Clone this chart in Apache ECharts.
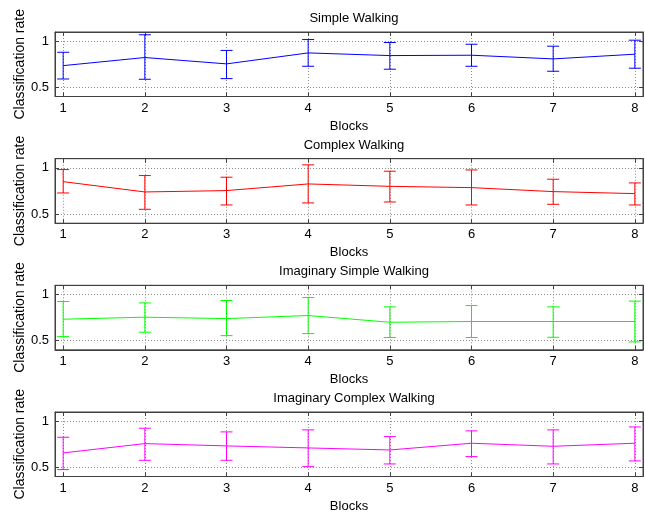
<!DOCTYPE html>
<html><head><meta charset="utf-8">
<script src="https://cdn.jsdelivr.net/npm/echarts@6/dist/echarts.min.js"></script>
<style>html,body{margin:0;padding:0;background:#fff}#c{width:645px;height:512px}</style>
</head><body><div id="c"></div>
<script>
const blocks = [1, 2, 3, 4, 5, 6, 7, 8];
const yTicks = [0.5, 1];
const titles = ['Simple Walking', 'Complex Walking', 'Imaginary Simple Walking', 'Imaginary Complex Walking'];
const colors = ['#0000ff', '#ff0000', '#00ff00', '#ff00ff'];

const simpleMean  = [0.735, 0.823, 0.754, 0.873, 0.844, 0.848, 0.808, 0.859];
const simpleLow   = [0.590, 0.587, 0.594, 0.728, 0.696, 0.728, 0.674, 0.707];
const simpleHigh  = [0.880, 1.070, 0.900, 1.018, 0.986, 0.967, 0.946, 1.011];

const complexMean = [0.851, 0.739, 0.754, 0.826, 0.800, 0.786, 0.743, 0.721];
const complexLow  = [0.728, 0.551, 0.598, 0.620, 0.630, 0.598, 0.605, 0.598];
const complexHigh = [0.982, 0.917, 0.899, 1.033, 0.964, 0.978, 0.877, 0.837];

const imSimpleMean = [0.732, 0.754, 0.739, 0.772, 0.699, 0.707, 0.707, 0.707];
const imSimpleLow  = [0.543, 0.591, 0.554, 0.576, 0.533, 0.533, 0.536, 0.486];
const imSimpleHigh = [0.924, 0.909, 0.935, 0.967, 0.866, 0.880, 0.866, 0.928];

const imComplexMean = [0.656, 0.757, 0.732, 0.710, 0.688, 0.761, 0.728, 0.761];
const imComplexLow  = [0.475, 0.576, 0.576, 0.507, 0.536, 0.616, 0.536, 0.569];
const imComplexHigh = [0.826, 0.924, 0.884, 0.906, 0.833, 0.895, 0.906, 0.938];

const means = [simpleMean, complexMean, imSimpleMean, imComplexMean];
const lows = [simpleLow, complexLow, imSimpleLow, imComplexLow];
const highs = [simpleHigh, complexHigh, imSimpleHigh, imComplexHigh];

const FONT = '"Liberation Sans", Arial, sans-serif';
const tops = [32, 158.7, 285.3, 412];
const H = 64.5, L = 55, R = 2;

const grid = [], xAxis = [], yAxis = [], series = [], title = [];
const boxColor = '#404040';
const gridLine = { show: true, lineStyle: { color: '#8c8c8c', type: [1, 2], width: 1 } };

for (let i = 0; i < 4; i++) {
  grid.push({ left: L, right: R, top: tops[i], height: H, show: true, containLabel: false, outerBoundsMode: 'none',
    borderColor: boxColor, borderWidth: 1, backgroundColor: 'transparent' });
  title.push({ text: titles[i], left: 349, top: tops[i] - 25, textAlign: 'center',
    textStyle: { fontFamily: FONT, fontSize: 13, fontWeight: 'normal', color: '#000' } });
  const xb = {
    gridIndex: i, type: 'value', min: 0.9, max: 8.1, position: 'bottom',
    axisLine: { show: true, onZero: false, lineStyle: { color: boxColor } },
    axisTick: { show: true, inside: true, length: 4, customValues: blocks, lineStyle: { color: boxColor } },
    axisLabel: { show: true, customValues: blocks, margin: 5, fontFamily: FONT, fontSize: 13, color: '#000' },
    splitLine: Object.assign({}, gridLine),
    name: 'Blocks', nameLocation: 'middle', nameGap: 23,
    nameTextStyle: { fontFamily: FONT, fontSize: 13, color: '#000', verticalAlign: 'top' }
  };
  const xt = {
    gridIndex: i, type: 'value', min: 0.9, max: 8.1, position: 'top',
    axisLine: { show: true, onZero: false, lineStyle: { color: boxColor } },
    axisTick: { show: true, inside: true, length: 4, customValues: blocks, lineStyle: { color: boxColor } },
    axisLabel: { show: false }, splitLine: { show: false }
  };
  const yl = {
    gridIndex: i, type: 'value', min: 0.4, max: 1.1, position: 'left',
    axisLine: { show: true, onZero: false, lineStyle: { color: boxColor } },
    axisTick: { show: true, inside: true, length: 4, customValues: yTicks, lineStyle: { color: boxColor } },
    axisLabel: { show: true, customValues: yTicks, margin: 6, fontFamily: FONT, fontSize: 13, color: '#000' },
    splitLine: Object.assign({}, gridLine),
    name: 'Classification rate', nameLocation: 'middle', nameGap: 28, nameRotate: 90, nameMoveOverlap: false,
    nameTextStyle: { fontFamily: FONT, fontSize: 14, color: '#000' }
  };
  const yr = {
    gridIndex: i, type: 'value', min: 0.4, max: 1.1, position: 'right',
    axisLine: { show: true, onZero: false, lineStyle: { color: boxColor } },
    axisTick: { show: true, inside: true, length: 4, customValues: yTicks, lineStyle: { color: boxColor } },
    axisLabel: { show: false }, splitLine: { show: false }
  };
  xAxis.push(xb, xt);
  yAxis.push(yl, yr);

  series.push({
    type: 'line', xAxisIndex: 2 * i, yAxisIndex: 2 * i, symbol: 'none', silent: true,
    lineStyle: { color: colors[i], width: 1 },
    data: blocks.map((b, k) => [b, means[i][k]]), z: 3
  });
  series.push({
    type: 'custom', xAxisIndex: 2 * i, yAxisIndex: 2 * i, silent: true, z: 4,
    data: blocks.map((b, k) => [b, lows[i][k], highs[i][k]]),
    encode: { x: 0, y: [1, 2] },
    renderItem: (function (col) {
      return function (params, api) {
        const x = api.value(0);
        const lo = api.coord([x, api.value(1)]);
        const hi = api.coord([x, api.value(2)]);
        const w = 6;
        const st = { stroke: col, lineWidth: 1, fill: null };
        return { type: 'group', children: [
          { type: 'line', shape: { x1: lo[0], y1: lo[1], x2: hi[0], y2: hi[1] }, style: st },
          { type: 'line', shape: { x1: hi[0] - w, y1: hi[1], x2: hi[0] + w, y2: hi[1] }, style: st },
          { type: 'line', shape: { x1: lo[0] - w, y1: lo[1], x2: lo[0] + w, y2: lo[1] }, style: st }
        ]};
      };
    })(colors[i])
  });
}

const chart = echarts.init(document.getElementById('c'), null, { renderer: 'canvas' });
chart.setOption({ animation: false, backgroundColor: '#fff', title, grid, xAxis, yAxis, series });
</script></body></html>
